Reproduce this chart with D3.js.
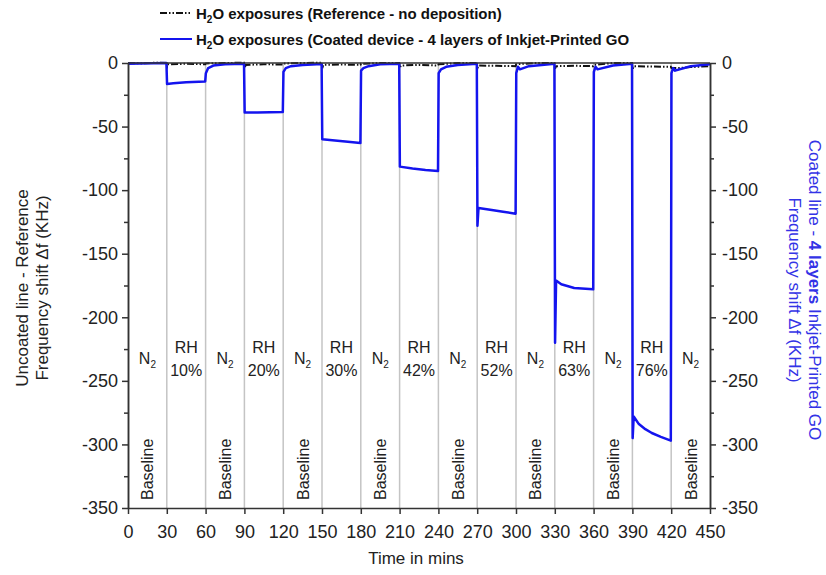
<!DOCTYPE html>
<html lang="en">
<head>
  <meta charset="UTF-8" />
  <title>Frequency shift - H2O exposures</title>
  <script src="https://d3js.org/d3.v7.min.js"></script>
  <style>
    body { margin: 0; background: #fff; }
    svg { font-family: "Liberation Sans", Arial, sans-serif; }
    .axis path, .axis line { stroke: #333; stroke-width: 1.5; }
    .axis text { font-size: 18px; fill: #222; }
  </style>
</head>
<body>
<svg width="826" height="575"></svg>
<script>
  // time (min), frequency shift (kHz) - coated device, 4 layers GO
  const coatedSeries = [
    [0, -0.5], [10, -0.3], [29.7, 0],
    [30.2, -16.5], [35, -16], [45, -15.2], [59.7, -14.5],
    [60.2, -8], [62, -4], [66, -2], [75, -1], [89.7, -0.5],
    [90.2, -39], [100, -39], [110, -38.8], [119.7, -38.5],
    [120.2, -7], [122, -4], [126, -2.5], [135, -1.5], [149.7, -0.8],
    [150.2, -60], [160, -61], [170, -62], [179.7, -63],
    [180.2, -6], [182, -4], [186, -2.5], [195, -1], [209.7, -0.5],
    [210.2, -81.5], [220, -83], [230, -84.2], [239.7, -85],
    [240.2, -8], [242, -5], [246, -3], [255, -1.5], [269.7, -0.5],
    [270.2, -128], [271, -114], [280, -115.5], [290, -117], [299.7, -118.5],
    [300.2, -8], [301.5, -3], [303, -5], [310, -2.5], [329.7, -0.5],
    [330.2, -220], [331, -171], [335, -174], [345, -177], [359.7, -178],
    [360.2, -7], [361.5, -3], [363, -5], [375, -2], [389.7, -0.5],
    [390.2, -295], [391, -278], [395, -284], [400, -288], [405, -291], [412, -294], [419.7, -297],
    [420.2, -8], [421.5, -4], [423, -6], [435, -2.5], [450, -1]
  ];

  // reference line (no deposition)
  const refSeries = [
    [0, 0], [10, -0.3], [20, 0.2], [29.7, 0],
    [30.2, -3], [31, -1], [45, -0.6], [59.7, -1],
    [60.2, -0.3], [75, 0], [89.7, 0.2],
    [90.2, -4], [91, -1.5], [105, -1], [119.7, -1.2],
    [120.2, -0.4], [135, 0], [149.7, 0.2],
    [150.2, -4], [151, -1.5], [165, -1.2], [179.7, -1.5],
    [180.2, -0.6], [195, 0], [209.7, 0],
    [210.2, -3.5], [211, -2], [225, -1.5], [239.7, -2],
    [240.2, -1], [255, 0], [269.7, 0],
    [270.2, -4], [271, -2], [285, -2.2], [299.7, -2.5],
    [300.2, -1], [315, 0], [329.7, 0],
    [330.2, -4.5], [331, -2.5], [345, -2.2], [359.7, -2.5],
    [360.2, -1.5], [375, 0], [389.7, 0],
    [390.2, -5], [391, -2.5], [405, -2.8], [419.7, -3],
    [420.2, -4], [425, -4], [435, -3.2], [450, -2.5]
  ];

  const xTicks = d3.range(0, 451, 30);
  const yTicks = d3.range(-350, 1, 50);
  const yMinorTicks = d3.range(-325, 0, 50);
  const dividers = d3.range(30, 421, 30);
  const n2Starts = [0, 60, 120, 180, 240, 300, 360, 420];
  const rhStarts = [30, 90, 150, 210, 270, 330, 390];
  const rhLabels = ["10%", "20%", "30%", "42%", "52%", "63%", "76%"];

  const svg = d3.select("svg");
  const blue = "#1414ee";
  const plain = d => String(d);  // hyphen minus like the original

  const x = d3.scaleLinear().domain([0, 450]).range([128, 710]);
  const y = d3.scaleLinear().domain([-350, 0]).range([508, 63]);

  // grey dividers between phases
  svg.selectAll(".divider")
    .data(dividers)
    .enter()
    .append("line")
    .attr("x1", d => x(d)).attr("x2", d => x(d))
    .attr("y1", y(0)).attr("y2", y(-350))
    .attr("stroke", "#c4c4c4")
    .attr("stroke-width", 1.5);

  // phase labels
  const n2 = svg.selectAll(".n2")
    .data(n2Starts)
    .enter()
    .append("text")
    .attr("x", d => x(d + 15))
    .attr("y", 364)
    .attr("text-anchor", "middle")
    .style("font-size", "16px")
    .attr("fill", "#222");
  n2.append("tspan").text("N");
  n2.append("tspan").attr("dy", 4).style("font-size", "10px").text("2");

  svg.selectAll(".rh")
    .data(rhStarts)
    .enter()
    .append("text")
    .attr("x", d => x(d + 15))
    .attr("y", 353)
    .attr("text-anchor", "middle")
    .style("font-size", "16px")
    .attr("fill", "#222")
    .text("RH");

  svg.selectAll(".rhval")
    .data(rhStarts)
    .enter()
    .append("text")
    .attr("x", d => x(d + 15))
    .attr("y", 376)
    .attr("text-anchor", "middle")
    .style("font-size", "16px")
    .attr("fill", "#222")
    .text((d, i) => rhLabels[i]);

  svg.selectAll(".baseline")
    .data(n2Starts)
    .enter()
    .append("text")
    .attr("transform", d => `translate(${x(d + 15) + 6},500) rotate(-90)`)
    .style("font-size", "16px")
    .attr("fill", "#222")
    .text("Baseline");

  // lines
  const line = d3.line().x(d => x(d[0])).y(d => y(d[1]));

  svg.append("path")
    .datum(refSeries)
    .attr("fill", "none")
    .attr("stroke", "#111")
    .attr("stroke-width", 2)
    .attr("stroke-dasharray", "7,2,1.5,2,1.5,2")
    .attr("d", line);

  svg.append("path")
    .datum(coatedSeries)
    .attr("fill", "none")
    .attr("stroke", blue)
    .attr("stroke-width", 2.5)
    .attr("stroke-linejoin", "round")
    .attr("d", line);

  // axes
  svg.append("line")
    .attr("x1", x(0)).attr("x2", x(450))
    .attr("y1", y(0)).attr("y2", y(0))
    .attr("stroke", "#333").attr("stroke-width", 1.5);

  svg.append("g").attr("class", "axis")
    .attr("transform", `translate(0,${y(-350)})`)
    .call(d3.axisBottom(x).tickValues(xTicks).tickFormat(plain).tickSize(6).tickPadding(11).tickSizeOuter(0));

  svg.append("g").attr("class", "axis")
    .attr("transform", `translate(${x(0)},0)`)
    .call(d3.axisLeft(y).tickValues(yTicks).tickFormat(plain).tickSize(6).tickPadding(4).tickSizeOuter(0));
  svg.append("g").attr("class", "axis")
    .attr("transform", `translate(${x(0)},0)`)
    .call(d3.axisLeft(y).tickValues(yMinorTicks).tickSize(4).tickFormat("").tickSizeOuter(0));

  svg.append("g").attr("class", "axis")
    .attr("transform", `translate(${x(450)},0)`)
    .call(d3.axisRight(y).tickValues(yTicks).tickFormat(plain).tickSize(6).tickPadding(6).tickSizeOuter(0));
  svg.append("g").attr("class", "axis")
    .attr("transform", `translate(${x(450)},0)`)
    .call(d3.axisRight(y).tickValues(yMinorTicks).tickSize(4).tickFormat("").tickSizeOuter(0));

  // axis titles
  svg.append("text")
    .attr("x", 416).attr("y", 564)
    .attr("text-anchor", "middle")
    .style("font-size", "17px")
    .attr("fill", "#222")
    .text("Time in mins");

  const leftTitle = svg.append("text")
    .attr("transform", "translate(28,288) rotate(-90)")
    .attr("text-anchor", "middle")
    .style("font-size", "17px")
    .attr("fill", "#222");
  leftTitle.append("tspan").attr("x", 0).text("Uncoated line - Reference");
  leftTitle.append("tspan").attr("x", 0).attr("dy", 20).text("Frequency shift \u0394f (KHz)");

  const rightTitle = svg.append("text")
    .attr("transform", "translate(809,290) rotate(90)")
    .attr("text-anchor", "middle")
    .style("font-size", "17px")
    .attr("fill", "#3333e6");
  const r1 = rightTitle.append("tspan").attr("x", 0);
  r1.append("tspan").text("Coated line - ");
  r1.append("tspan").style("font-weight", "bold").text("4 layers");
  r1.append("tspan").text(" Inkjet-Printed GO");
  rightTitle.append("tspan").attr("x", 0).attr("dy", 20).text("Frequency shift  \u0394f (KHz)");

  // legend
  const legend = [
    { label: "O exposures (Reference - no deposition)", color: "#111", dash: "7,2,1.5,2,1.5,2", ly: 13 },
    { label: "O exposures (Coated device - 4 layers of Inkjet-Printed GO", color: blue, dash: null, ly: 39 }
  ];
  legend.forEach(l => {
    svg.append("line")
      .attr("x1", 160).attr("x2", 192)
      .attr("y1", l.ly).attr("y2", l.ly)
      .attr("stroke", l.color)
      .attr("stroke-width", 2)
      .attr("stroke-dasharray", l.dash);
    const t = svg.append("text")
      .attr("x", 196).attr("y", l.ly + 5.5)
      .style("font-size", "15px")
      .style("font-weight", "bold")
      .attr("fill", "#111");
    t.append("tspan").text("H");
    t.append("tspan").attr("dy", 4).style("font-size", "10px").text("2");
    t.append("tspan").attr("dy", -4).text(l.label);
  });
</script>
</body>
</html>
